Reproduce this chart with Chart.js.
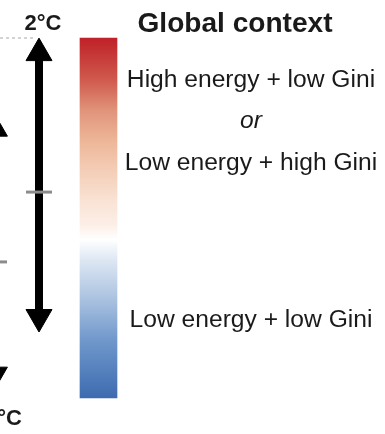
<!DOCTYPE html>
<html>
<head>
<meta charset="utf-8">
<script src="https://cdn.jsdelivr.net/npm/chart.js@4"></script>
<style>
  html, body { margin: 0; padding: 0; background: #fff; }
  canvas { display: block; }
</style>
</head>
<body>
<canvas id="myChart" width="385" height="434"></canvas>
<script>
// levels: 1 = top of the scale (2°C), 0 = bottom of the colour bar
var scaleRange = [0, 1];
var warmingArrow = [0.958, 0.225];   // head centres of the main arrow
var warmingTick = [0.572];
var otherArrow = [0.744, 0.069];     // arrow cut off at the left edge
var otherTick = [0.378];
var tempLabels = ['2°C', '1.5°C'];
var contextTitle = 'Global context';
var contextLabels = ['High energy + low Gini', 'or', 'Low energy + high Gini', 'Low energy + low Gini'];
var contextLevels = [0.864, 0.75, 0.633, 0.197];
var gradientLevels = [1, 0.883, 0.80, 0.717, 0.633, 0.55, 0.48, 0.44, 0.383, 0.272, 0.161, 0];
var gradientColors = ['#bf2128', '#d05a4d', '#e0937a', '#edb597', '#f4cdb6', '#f9e2d4',
                      '#fcefe7', '#ffffff', '#dde7f3', '#a9c1e0', '#7098cb', '#3d6bb0'];

var arrowX = 39, barX = 98.5, leftX = -3;

function barGradient(context) {
    var chart = context.chart;
    if (!chart.chartArea) return '#fff';
    var y = chart.scales.y;
    var g = chart.ctx.createLinearGradient(0, y.getPixelForValue(scaleRange[1]), 0, y.getPixelForValue(scaleRange[0]));
    gradientLevels.forEach(function (l, i) {
        g.addColorStop(1 - l, gradientColors[i]);
    });
    return g;
}

// draw text slightly stretched sideways, like the source figure
function wideText(c, text, x, y, sx) {
    c.save();
    c.translate(x, y);
    c.scale(sx, 1);
    c.fillText(text, 0, 0);
    c.restore();
}

var textPlugin = {
    id: 'texts',
    afterDatasetsDraw: function (chart) {
        var c = chart.ctx, y = chart.scales.y;
        c.save();
        c.fillStyle = '#1a1a1a';
        c.textBaseline = 'alphabetic';

        c.font = 'bold 22px "Liberation Sans", Arial, sans-serif';
        c.textAlign = 'center';
        c.fillText(tempLabels[0], 43, 30);
        c.textAlign = 'right';
        c.fillText(tempLabels[1], 22, 425);

        c.font = 'bold 27px "Liberation Sans", Arial, sans-serif';
        c.textAlign = 'center';
        wideText(c, contextTitle, 235, 32, 1.04);

        contextLabels.forEach(function (t, i) {
            c.font = (t === 'or' ? 'italic ' : '') + '23px "Liberation Sans", Arial, sans-serif';
            wideText(c, t, 251, y.getPixelForValue(contextLevels[i]), 1.07);
        });
        c.restore();
    }
};

var ctx = document.getElementById('myChart').getContext('2d');
var myChart = new Chart(ctx, {
    data: {
        datasets: [{
            type: 'line',
            data: warmingTick.map(function (v) { return {x: arrowX, y: v}; }),
            showLine: false,
            pointStyle: 'line',
            pointRadius: 13,
            pointBorderColor: '#8c8c8c',
            pointBorderWidth: 3,
            order: 0
        }, {
            type: 'line',
            data: otherTick.map(function (v) { return {x: leftX, y: v}; }),
            showLine: false,
            pointStyle: 'line',
            pointRadius: 10,
            pointBorderColor: '#8c8c8c',
            pointBorderWidth: 3,
            clip: false,
            order: 0
        }, {
            type: 'line',
            data: warmingArrow.map(function (v) { return {x: arrowX, y: v}; }),
            borderColor: '#000',
            borderWidth: 8,
            pointStyle: 'triangle',
            pointRotation: [0, 180],
            pointRadius: 15,
            pointBackgroundColor: '#000',
            pointBorderColor: '#000',
            pointBorderWidth: 1,
            order: 1
        }, {
            type: 'line',
            data: otherArrow.map(function (v) { return {x: leftX, y: v}; }),
            borderColor: '#000',
            borderWidth: 6,
            pointStyle: 'triangle',
            pointRotation: [0, 180],
            pointRadius: 12,
            pointBackgroundColor: '#000',
            pointBorderColor: '#000',
            pointBorderWidth: 1,
            clip: false,
            order: 1
        }, {
            type: 'line',
            data: [{x: 0, y: scaleRange[1]}, {x: 33, y: scaleRange[1]}],
            borderColor: '#a8a8a8',
            borderWidth: 1,
            borderDash: [3, 3],
            pointRadius: 0,
            order: 2
        }, {
            type: 'bar',
            data: [{x: barX, y: scaleRange}],
            backgroundColor: barGradient,
            borderWidth: 0,
            barThickness: 37,
            order: 3
        }]
    },
    options: {
        responsive: false,
        animation: false,
        devicePixelRatio: 1,
        layout: { padding: 0, autoPadding: false },
        plugins: { legend: { display: false }, tooltip: { enabled: false } },
        scales: {
            x: { type: 'linear', min: 0, max: 385, offset: false, display: false },
            y: { type: 'linear', min: -0.1, max: 398 / 360, display: false }
        }
    },
    plugins: [textPlugin]
});
</script>
</body>
</html>
